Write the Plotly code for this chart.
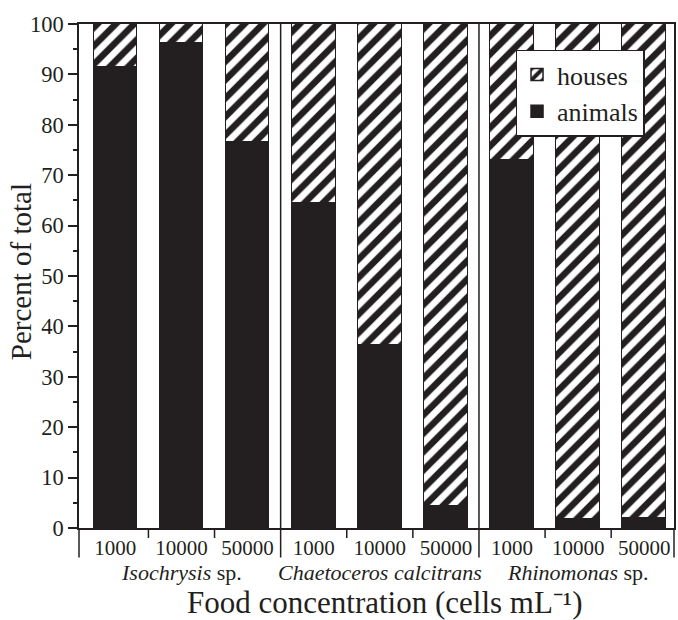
import plotly.graph_objects as go

# ---- data ----
positions = [0, 1, 2, 3, 4, 5, 6, 7, 8]
concentrations = ["1000", "10000", "50000", "1000", "10000", "50000", "1000", "10000", "50000"]
species = ["<i>Isochrysis</i> sp.", "<i>Chaetoceros calcitrans</i>", "<i>Rhinomonas</i> sp."]
species_pos = [1, 4, 7]
animals = [91.4, 96.2, 76.5, 64.5, 36.3, 4.3, 73.1, 1.8, 2.0]
houses = [8.6, 3.8, 23.5, 35.5, 63.7, 95.7, 26.9, 98.2, 98.0]
divider_pos = [2.5, 5.5]
minor_tick_pos = [0.5, 1.5, 3.5, 4.5, 6.5, 7.5]
yticks = [0, 10, 20, 30, 40, 50, 60, 70, 80, 90, 100]

BLACK = "#231f20"
FONT = "Liberation Serif, Times New Roman, serif"

W, H = 678, 620
ML, MR, MT, MB = 79, 2, 24, 92
PH = H - MT - MB
PW = W - ML - MR

fig = go.Figure()
fig.add_trace(go.Bar(
    x=positions, y=animals, name="animals", width=0.66,
    marker=dict(color=BLACK, line=dict(color=BLACK, width=1.5)),
))
fig.add_trace(go.Bar(
    x=positions, y=houses, name="houses", width=0.66,
    marker=dict(color="white", line=dict(color=BLACK, width=1.5),
                pattern=dict(shape="/", fgcolor=BLACK, bgcolor="white", fgopacity=1,
                             size=13, solidity=0.5)),
))

shapes = []
ext = -29.5 / PH
for xp in divider_pos:
    shapes.append(dict(type="line", xref="x", yref="paper", x0=xp, x1=xp,
                       y0=ext, y1=1, line=dict(color=BLACK, width=1.5)))
for xp in [0, 1]:
    shapes.append(dict(type="line", xref="paper", yref="paper", x0=xp, x1=xp,
                       y0=ext, y1=0, line=dict(color=BLACK, width=1.5)))
for xp in minor_tick_pos:
    shapes.append(dict(type="line", xref="x", yref="paper", x0=xp, x1=xp,
                       y0=-10 / PH, y1=0, line=dict(color=BLACK, width=1.5)))

annotations = []
for s, xp in zip(species, species_pos):
    annotations.append(dict(text=s, x=xp, xref="x", y=-(572 - 527.5) / PH, yref="paper",
                            showarrow=False, xanchor="center", yanchor="middle",
                            font=dict(family=FONT, size=22, color=BLACK)))
annotations.append(dict(text="Food concentration (cells mL\u207b\u00b9)",
                        x=(386 - ML) / PW, xref="paper", y=-(602 - 527.5) / PH, yref="paper",
                        showarrow=False, xanchor="center", yanchor="middle",
                        font=dict(family=FONT, size=31, color=BLACK)))
annotations.append(dict(text="Percent of total", textangle=-90,
                        x=(21 - ML) / PW, xref="paper", y=(527.5 - 271.5) / PH, yref="paper",
                        showarrow=False, xanchor="center", yanchor="middle",
                        font=dict(family=FONT, size=29, color=BLACK)))

fig.update_layout(
    width=W, height=H,
    margin=dict(l=ML, r=MR, t=MT, b=MB),
    barmode="stack", bargap=0,
    plot_bgcolor="white", paper_bgcolor="white",
    font=dict(family=FONT, color=BLACK),
    shapes=shapes, annotations=annotations,
    legend=dict(x=(517 - ML) / PW, y=(527.5 - 49) / PH, xanchor="left", yanchor="top",
                bgcolor="white", bordercolor=BLACK, borderwidth=1.5,
                font=dict(family=FONT, size=26, color=BLACK),
                traceorder="reversed", tracegroupgap=0),
    showlegend=True,
)
fig.update_xaxes(range=[-0.55, 8.45], tickvals=positions, ticktext=concentrations,
                 ticks="", showline=True, linecolor=BLACK, linewidth=1.5, mirror=True,
                 showgrid=False, zeroline=False, tickfont=dict(family=FONT, size=21, color=BLACK),
                 ticklabelstandoff=0)
fig.update_yaxes(range=[0, 100], tickvals=yticks, ticks="outside", ticklen=9, tickwidth=1.5,
                 tickcolor=BLACK, showline=True, linecolor=BLACK, linewidth=1.5, mirror=True,
                 showgrid=False, zeroline=False, tickfont=dict(family=FONT, size=22.5, color=BLACK),
                 minor=dict(dtick=5, tick0=0, ticks="outside", ticklen=4, tickwidth=1.5,
                            tickcolor=BLACK, showgrid=False))

fig.write_html("out.html")
